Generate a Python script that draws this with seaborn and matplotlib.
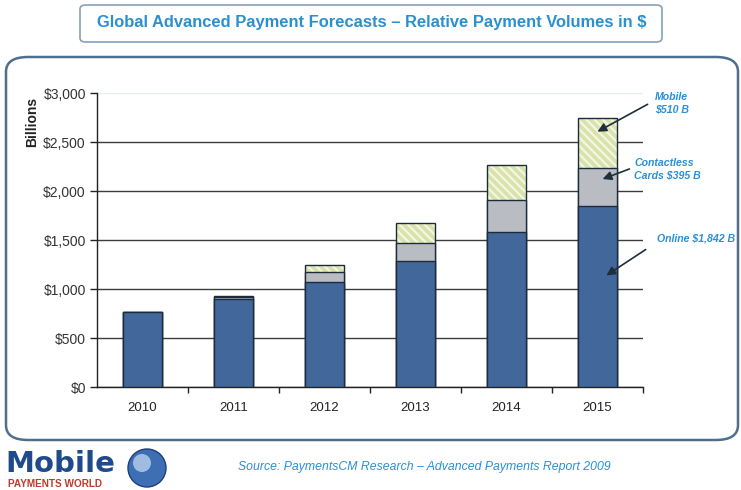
import numpy as np
import pandas as pd
import matplotlib
matplotlib.use("Agg")
import matplotlib.pyplot as plt
import seaborn as sns
from matplotlib.patches import FancyBboxPatch, Ellipse
from matplotlib.ticker import FuncFormatter, FixedLocator

# data (billions of $)
years = ["2010", "2011", "2012", "2013", "2014", "2015"]
online = [770, 900, 1070, 1290, 1580, 1842]
contactless = [0, 15, 105, 180, 327, 395]
mobile = [0, 10, 65, 200, 356, 510]

df = pd.DataFrame({"Year": years, "Online": online,
                   "Contactless": contactless, "Mobile": mobile})
df["OC"] = df["Online"] + df["Contactless"]
df["Total"] = df["OC"] + df["Mobile"]

sns.set_style("white")
plt.rcParams["font.family"] = ["Liberation Sans", "DejaVu Sans"]
plt.rcParams["hatch.linewidth"] = 1.6

fig = plt.figure(figsize=(7.41, 4.90), dpi=100)
W, H = 741, 490

def fx(px):
    return px / W

def fy(py):
    return 1 - py / H

# outer rounded frame
frame = FancyBboxPatch((fx(6), fy(440)), fx(732), fy(57) - fy(440),
                       boxstyle="round,pad=0,rounding_size=0.03",
                       transform=fig.transFigure, fc="white",
                       ec="#4f6f8f", lw=1.8, zorder=-2)
fig.patches.append(frame)

# title box
tbox = FancyBboxPatch((fx(80), fy(42)), fx(582), fy(5) - fy(42),
                      boxstyle="round,pad=0,rounding_size=0.008",
                      transform=fig.transFigure, fc="white",
                      ec="#8aa0b8", lw=1.2, zorder=-2)
fig.patches.append(tbox)
fig.text(fx(372), fy(23), "Global Advanced Payment Forecasts \u2013 Relative Payment Volumes in $",
         ha="center", va="center", fontsize=11.9, fontweight="bold", color="#2a90d0")

ax = fig.add_axes([fx(97), fy(387), fx(643 - 97), fy(93) - fy(387)], zorder=2)
ax.set_facecolor("none")

blue = "#42679b"
gray = "#b9bcc2"
green = "#d9e2aa"
edge = "#1c2c3c"

# mobile layer: fill + light hatch, outline drawn separately
sns.barplot(data=df, x="Year", y="Total", color=green, width=0.42,
            edgecolor="#f3f6e2", linewidth=0, hatch="\\\\\\\\", saturation=1,
            ax=ax, zorder=2)
sns.barplot(data=df, x="Year", y="Total", color=edge, width=0.42, fill=False,
            linewidth=1.0, ax=ax, zorder=2.5)
sns.barplot(data=df, x="Year", y="OC", color=gray, width=0.42,
            edgecolor=edge, linewidth=1.0, saturation=1, ax=ax, zorder=3)
sns.barplot(data=df, x="Year", y="Online", color=blue, width=0.42,
            edgecolor=edge, linewidth=1.0, saturation=1, ax=ax, zorder=4)

ax.set_ylim(0, 3000)
ax.set_xlim(-0.5, len(years) - 0.5)
ax.set_yticks(np.arange(0, 3001, 500))
ax.yaxis.set_major_formatter(FuncFormatter(lambda v, _: f"${v:,.0f}"))
ax.set_xlabel("")
ax.set_ylabel("")

ax.grid(axis="y", color="#3c3c3c", lw=1.0, zorder=1)
ax.set_axisbelow(True)
ax.get_ygridlines()[-1].set_color("#e6eef4")

for s in ["top", "right"]:
    ax.spines[s].set_visible(False)
ax.spines["left"].set_color("#222222")
ax.spines["bottom"].set_color("#222222")
ax.spines["left"].set_linewidth(1.0)
ax.spines["bottom"].set_linewidth(1.0)

ax.tick_params(axis="y", direction="out", length=5, width=1, color="#222222",
               labelsize=10, labelcolor="#333333", pad=3, left=True)
ax.tick_params(axis="x", which="major", length=0, labelsize=9.5,
               labelcolor="#222222", pad=11)
ax.xaxis.set_minor_locator(FixedLocator(np.arange(0.5, len(years), 1.0)))
ax.tick_params(axis="x", which="minor", direction="out", length=4, width=1,
               color="#222222", bottom=True)

fig.text(fx(32), fy(122), "Billions", rotation=90, ha="center", va="center",
         fontsize=10, fontweight="bold", color="#222222")

# annotations
blue_txt = "#2a8fd6"
fig.text(fx(655), fy(103), "Mobile\n$510 B", ha="left", va="center",
         fontsize=7.6, fontweight="bold", style="italic", color=blue_txt,
         linespacing=1.15)
fig.text(fx(634), fy(169), "Contactless\nCards $395 B", ha="left", va="center",
         fontsize=7.6, fontweight="bold", style="italic", color=blue_txt,
         linespacing=1.15)
fig.text(fx(657), fy(238), "Online $1,842 B", ha="left", va="center",
         fontsize=7.6, fontweight="bold", style="italic", color=blue_txt)

arrow_kw = dict(arrowstyle="-|>", color="#1e2e3a", lw=1.2, mutation_scale=13)
for tip, tail in [((595, 133), (650, 103)), ((600, 180), (632, 168)),
                  ((604, 277), (648, 248))]:
    ax.annotate("", xy=(fx(tip[0]), fy(tip[1])), xycoords="figure fraction",
                xytext=(fx(tail[0]), fy(tail[1])), textcoords="figure fraction",
                arrowprops=arrow_kw, annotation_clip=False, zorder=6)

# footer: logo + source
fig.text(fx(5), fy(472), "Mobile", ha="left", va="baseline", fontsize=21,
         fontweight="bold", color="#1f4a8c", family="DejaVu Sans")
fig.text(fx(8), fy(484), "PAYMENTS WORLD", ha="left", va="center", fontsize=7.2,
         fontweight="bold", color="#c0392b")
globe = Ellipse((fx(147), fy(468)), fx(38), 38 / H, transform=fig.transFigure,
                fc="#3f6fb3", ec="#1f3f7a", lw=1, zorder=3)
fig.patches.append(globe)
shine = Ellipse((fx(142), fy(463)), fx(18), 18 / H, transform=fig.transFigure,
                fc="#b9d0ec", ec="none", alpha=0.8, zorder=4)
fig.patches.append(shine)
fig.text(fx(238), fy(467), "Source: PaymentsCM Research \u2013 Advanced Payments Report 2009",
         ha="left", va="center", fontsize=8.8, style="italic", color="#2a8fd6")

fig.savefig("out.png", dpi=100)
